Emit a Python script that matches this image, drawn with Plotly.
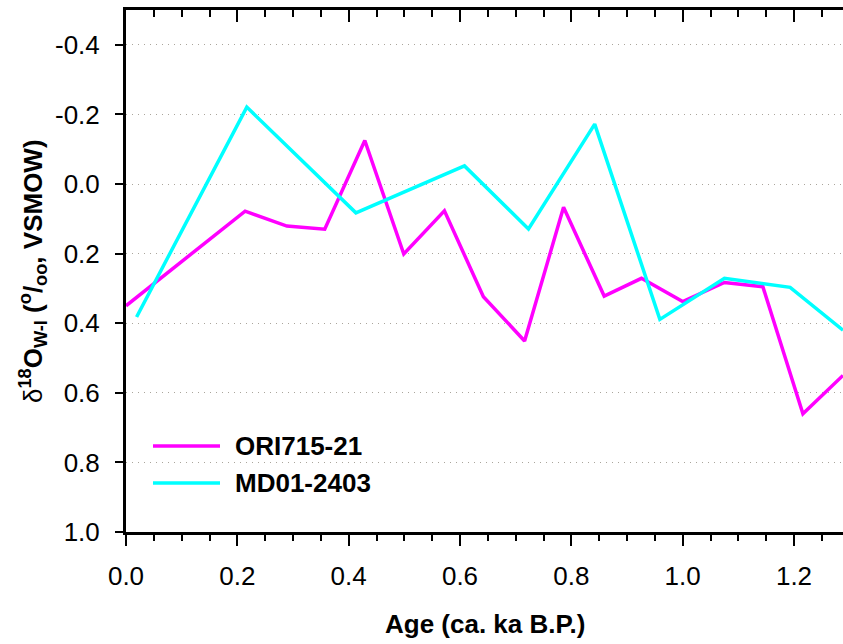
import plotly.graph_objects as go

# ORI715-21 record
ori_age = [0.0, 0.214, 0.289, 0.357, 0.429, 0.499, 0.572, 0.642, 0.716,
           0.786, 0.859, 0.926, 1.0, 1.075, 1.144, 1.216, 1.288]
ori_d18o = [0.35, 0.078, 0.121, 0.130, -0.125, 0.201, 0.077, 0.324, 0.451,
            0.067, 0.322, 0.271, 0.338, 0.283, 0.295, 0.660, 0.55]

# MD01-2403 record
md_age = [0.019, 0.217, 0.413, 0.608, 0.723, 0.842, 0.959, 1.075, 1.193, 1.288]
md_d18o = [0.382, -0.221, 0.083, -0.052, 0.129, -0.172, 0.389, 0.271, 0.297, 0.42]

series_names = ["ORI715-21", "MD01-2403"]
series_colors = ["#ff00ff", "#00ffff"]

y_tickvals = [-0.4, -0.2, 0.0, 0.2, 0.4, 0.6, 0.8, 1.0]
y_ticktext = ["-0.4", "-0.2", "0.0", "0.2", "0.4", "0.6", "0.8", "1.0"]
x_tickvals = [0.0, 0.2, 0.4, 0.6, 0.8, 1.0, 1.2]
x_ticktext = ["0.0", "0.2", "0.4", "0.6", "0.8", "1.0", "1.2"]

FONT = "Arial, Liberation Sans, sans-serif"
FS = 26
W, H = 843, 644
ML, MR, MT, MB = 126, 0, 10, 112
X_RANGE = [0, 1.288]
Y_RANGE = [1.0, -0.5]

fig = go.Figure()
fig.add_trace(go.Scatter(x=ori_age, y=ori_d18o, mode="lines", name=series_names[0],
                         line=dict(color=series_colors[0], width=3.5), showlegend=False))
fig.add_trace(go.Scatter(x=md_age, y=md_d18o, mode="lines", name=series_names[1],
                         line=dict(color=series_colors[1], width=3.5), showlegend=False))
# empty trace so the top frame axis is drawn
fig.add_trace(go.Scatter(x=[], y=[], xaxis="x2", showlegend=False, hoverinfo="skip"))

fig.update_layout(
    width=W, height=H,
    margin=dict(l=ML, r=MR, t=MT, b=MB, pad=0),
    paper_bgcolor="white", plot_bgcolor="white",
    font=dict(family=FONT, size=FS, color="black"),
    xaxis=dict(
        range=X_RANGE, tickvals=x_tickvals, ticktext=x_ticktext,
        showline=True, linecolor="black", linewidth=3,
        ticks="outside", ticklen=11, tickwidth=2, tickcolor="black",
        minor=dict(dtick=0.05, tick0=0, ticks="outside", ticklen=6,
                   tickwidth=2, tickcolor="black", showgrid=False),
        showgrid=False, zeroline=False, ticklabelstandoff=8,
    ),
    xaxis2=dict(
        range=X_RANGE, overlaying="x", side="top", anchor="y",
        tickvals=x_tickvals, showticklabels=False,
        showline=True, linecolor="black", linewidth=3,
        ticks="inside", ticklen=12, tickwidth=2, tickcolor="black",
        minor=dict(dtick=0.05, tick0=0, ticks="inside", ticklen=7,
                   tickwidth=2, tickcolor="black", showgrid=False),
        showgrid=False, zeroline=False,
    ),
    yaxis=dict(
        range=Y_RANGE, tickvals=y_tickvals, ticktext=y_ticktext,
        showline=True, linecolor="black", linewidth=3,
        ticks="outside", ticklen=8, tickwidth=2, tickcolor="black",
        showgrid=True, gridcolor="#aaa59c", gridwidth=1, griddash="1px,5px",
        zeroline=False, ticklabelstandoff=10,
    ),
)

def px_x(px):
    return (px - ML) / (W - ML - MR)

def px_y(py):
    return 1 - (py - MT) / (H - MT - MB)

annotations = [
    dict(text="<b>Age (ca. ka B.P.)</b>", xref="paper", yref="paper",
         x=0.5, y=px_y(624), xanchor="center", yanchor="middle",
         showarrow=False, font=dict(size=FS)),
    dict(text="δ<b><sup>18</sup>O<sub>W-I</sub> (<sup>o</sup>/<sub>oo</sub>, VSMOW)</b>",
         xref="paper", yref="paper", x=px_x(33), y=0.5, textangle=-90,
         xanchor="center", yanchor="middle", showarrow=False, font=dict(size=FS)),
]

# legend keys
legend_rows = [446, 483]
shapes = []
for name, color, row in zip(series_names, series_colors, legend_rows):
    shapes.append(dict(type="line", xref="paper", yref="paper",
                       x0=px_x(153), x1=px_x(220), y0=px_y(row), y1=px_y(row),
                       line=dict(color=color, width=3.5)))
    annotations.append(dict(text=f"<b>{name}</b>", xref="paper", yref="paper",
                            x=px_x(233), y=px_y(row), xanchor="left", yanchor="middle",
                            showarrow=False, font=dict(size=FS)))

fig.update_layout(annotations=annotations, shapes=shapes)

fig.write_html("out.html")
